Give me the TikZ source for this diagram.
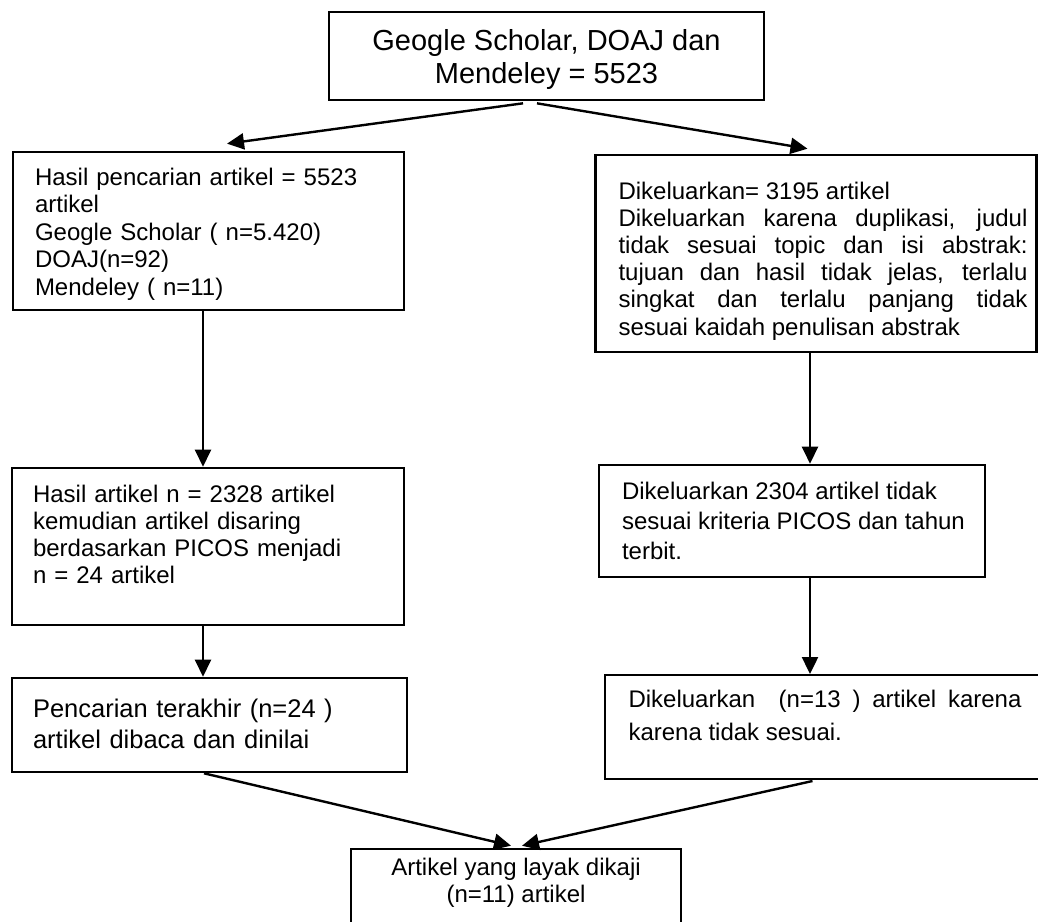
\documentclass[tikz,border=0pt]{standalone}
\usepackage{fontspec}
\setmainfont{Liberation Sans}
\usetikzlibrary{arrows.meta}
\tolerance=10000
\hbadness=10000
\hyphenpenalty=10000
\newcommand{\padtop}[1]{\rule{0pt}{#1}}
\newcommand{\padbot}[1]{\rule[-#1]{0pt}{#1}}

\begin{document}
\begin{tikzpicture}[x=1pt, y=-1pt,
    kotak/.style={draw, line width=2.6pt, inner ysep=0pt},
    panah/.style={-{Triangle[length=17pt,width=16pt]}, line width=2.4pt}]
    \useasboundingbox (0,0) rectangle (1038,921);
    % garis kolom panah
    \coordinate (colL) at (203,0);
    \coordinate (colR) at (810,0);

    % kotak sumber
    \node[kotak, minimum width=435, minimum height=88, inner xsep=10, align=center,
          font=\fontsize{29}{33}\selectfont] (sumber) at (546.5,56)
          {\padtop{38pt}Geogle Scholar, DOAJ dan\\ Mendeley = 5523\padbot{17pt}};

    % kolom kiri
    \node[kotak, minimum width=391, minimum height=158, inner xsep=22, text width=347,
          align=left, font=\fontsize{24}{27.5}\selectfont] (cari) at (208.5,231)
          {\padtop{33pt}Hasil pencarian artikel = 5523\\ artikel\\ Geogle Scholar ( n=5.420)\\ DOAJ(n=92)\\ Mendeley ( n=11)\padbot{15pt}};
    \node[kotak, minimum width=392, minimum height=157, inner xsep=21, text width=350,
          align=left, font=\fontsize{24}{27}\selectfont] (saring) at (208,546.5)
          {\padtop{34pt}Hasil artikel n = 2328 artikel\\ kemudian artikel disaring\\ berdasarkan PICOS menjadi\\ n = 24 artikel\padbot{42pt}};
    \node[kotak, minimum width=395, minimum height=94, inner xsep=21, text width=353,
          align=left, font=\fontsize{25.5}{31.5}\selectfont] (akhir) at (209.5,725)
          {\padtop{39pt}Pencarian terakhir (n=24 )\\ artikel dibaca dan dinilai\padbot{23.5pt}};

    % kolom kanan
    \node[kotak, minimum width=441, minimum height=197, inner xsep=9,
          font=\fontsize{24}{27.2}\selectfont] (keluar) at (816,253.5)
          {\hspace*{14pt}\parbox[t]{409pt}{\padtop{44pt}Dikeluarkan= 3195 artikel\\
           Dikeluarkan karena duplikasi, judul\linebreak tidak sesuai topic dan isi abstrak:\linebreak
           tujuan dan hasil tidak jelas, terlalu\linebreak singkat dan terlalu panjang tidak\linebreak
           sesuai kaidah penulisan abstrak\padbot{17pt}}};
    \node[kotak, minimum width=386, minimum height=112, inner xsep=8,
          font=\fontsize{24}{30.3}\selectfont] (picos) at (792,521)
          {\hspace*{15pt}\parbox[t]{355pt}{\raggedright\padtop{34pt}Dikeluarkan 2304 artikel tidak\\ sesuai kriteria PICOS dan tahun\\ terbit.\padbot{17pt}}};
    \node[kotak, line width=2pt, minimum width=440, minimum height=104, inner xsep=23.5, text width=393,
          align=justify, font=\fontsize{24}{33.3}\selectfont] (tolak) at (825,727)
          {\parfillskip=0pt plus 1fil\padtop{32pt}Dikeluarkan\ \ (n=13 ) artikel karena\linebreak
           karena tidak sesuai.\padbot{38.7pt}};

    % kotak hasil
    \node[kotak, minimum width=330, minimum height=81, inner xsep=10, align=center,
          font=\fontsize{24}{27}\selectfont] (layak) at (516,889.5)
          {\padtop{26pt}Artikel yang layak dikaji\\ (n=11) artikel\padbot{28pt}};

    % panah
    \draw[panah] ([shift={(-23.5,2)}]sumber.south) -- ([shift={(18.5,-7)}]cari.north);
    \draw[panah] ([shift={(-9.5,2)}]sumber.south) -- ([shift={(-8.5,-5)}]keluar.north);
    \draw[panah] (cari.south -| colL) -- (saring.north -| colL);
    \draw[panah] (saring.south -| colL) -- (akhir.north -| colL);
    \draw[panah] (keluar.south -| colR) -- (picos.north -| colR);
    \draw[panah] (picos.south -| colR) -- (tolak.north -| colR);
    \draw[panah] ([shift={(-5.5,0)}]akhir.south) -- ([shift={(-5,-2)}]layak.north);
    \draw[panah] ([shift={(-12.5,1)}]tolak.south) -- ([shift={(6,-2)}]layak.north);
\end{tikzpicture}
\end{document}
